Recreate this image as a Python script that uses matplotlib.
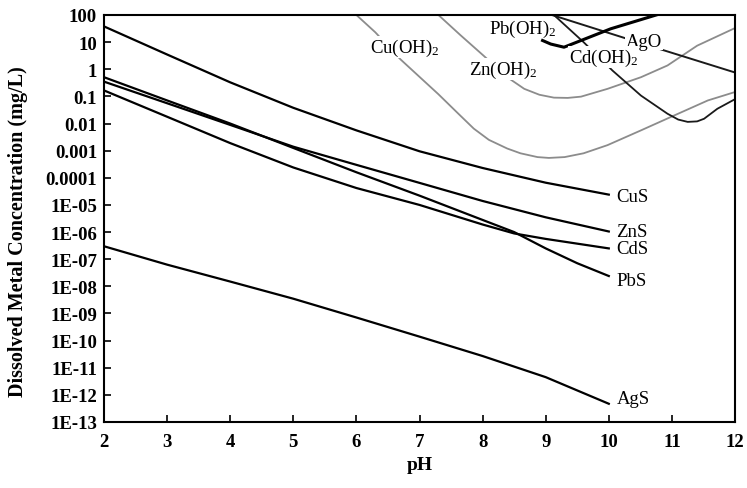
import matplotlib
matplotlib.use('Agg')
import matplotlib.pyplot as plt
from matplotlib.ticker import FixedLocator, FixedFormatter, NullLocator

plt.rcParams['font.family'] = ['Liberation Serif', 'DejaVu Serif']
plt.rcParams['mathtext.default'] = 'regular'

# ---- axis ticks ----
ph_ticks = [2, 3, 4, 5, 6, 7, 8, 9, 10, 11, 12]
conc_ticks = [1e2, 1e1, 1e0, 1e-1, 1e-2, 1e-3, 1e-4, 1e-5, 1e-6, 1e-7,
              1e-8, 1e-9, 1e-10, 1e-11, 1e-12, 1e-13]
conc_tick_labels = ['100', '10', '1', '0.1', '0.01', '0.001', '0.0001', '1E-05',
                    '1E-06', '1E-07', '1E-08', '1E-09', '1E-10', '1E-11',
                    '1E-12', '1E-13']

# ---- sulfide curves (mg/L) ----
sulfide_ph = [2, 3, 4, 5, 6, 7, 8, 9, 10]
cus = [38, 3.5, 0.33, 0.038, 5.6e-3, 9.5e-4, 2.3e-4, 6.6e-5, 2.4e-5]
zns = [0.35, 0.056, 8.9e-3, 1.4e-3, 3.0e-4, 6.5e-5, 1.4e-5, 3.5e-6, 1.05e-6]
ags = [3.0e-7, 6.3e-8, 1.5e-8, 3.5e-9, 7.1e-10, 1.4e-10, 2.7e-11, 4.5e-12, 4.7e-13]

pbs_ph = [2, 3, 4, 5, 6, 7, 8, 8.5, 9, 9.5, 10]
pbs = [0.51, 0.071, 0.01, 1.26e-3, 1.6e-4, 2.2e-5, 2.8e-6, 1.0e-6, 2.5e-7, 7.1e-8, 2.4e-8]

cds_ph = [2, 3, 4, 5, 6, 7, 8, 8.5, 9, 10]
cds = [0.166, 0.0178, 1.9e-3, 2.4e-4, 4.2e-5, 1.0e-5, 1.9e-6, 8.9e-7, 5.6e-7, 2.5e-7]

# ---- hydroxide / oxide curves (mg/L) ----
cuoh_ph = [6.0, 6.3, 6.7, 7.3, 7.6, 7.86, 8.1, 8.39, 8.6, 8.87, 9.05, 9.3, 9.6, 9.98,
           10.51, 11.04, 11.57, 12.0]
cuoh = [100, 23, 2.3, 0.12, 0.025, 6.5e-3, 2.5e-3, 1.2e-3, 8.0e-4, 5.8e-4, 5.4e-4,
        5.8e-4, 8.0e-4, 1.6e-3, 5.6e-3, 0.02, 0.071, 0.145]

znoh_ph = [7.3, 7.65, 8.02, 8.39, 8.66, 8.9, 9.13, 9.35, 9.56, 9.98, 10.51, 10.93,
           11.4, 12.0]
znoh = [100, 18, 3.1, 0.51, 0.19, 0.115, 0.09, 0.088, 0.098, 0.19, 0.51, 1.38,
        7.4, 33]

pboh_ph = [8.95, 9.08, 9.29, 10.03, 10.75]
pboh = [11.5, 8.5, 6.5, 31, 100]

cdoh_ph = [9.13, 9.6, 10.06, 10.51, 10.93, 11.1, 11.25, 11.4, 11.51, 11.72, 12.0]
cdoh = [100, 10, 0.89, 0.107, 0.023, 0.014, 0.0115, 0.012, 0.015, 0.035, 0.079]

ago_ph = [9.1, 10.5, 12.0]
ago = [100, 9.3, 0.76]

fig = plt.figure(figsize=(7.47, 4.89), dpi=100)
ax = fig.add_axes([104 / 747, 1 - 423 / 489, (735 - 104) / 747, (423 - 16) / 489])

black = '#000000'
gray = '#8c8c8c'
ax.plot(sulfide_ph, cus, color=black, lw=1.6)
ax.plot(sulfide_ph, zns, color=black, lw=1.6)
ax.plot(cds_ph, cds, color=black, lw=1.6)
ax.plot(pbs_ph, pbs, color=black, lw=1.6)
ax.plot(sulfide_ph, ags, color=black, lw=1.6)

ax.plot(cuoh_ph, cuoh, color=gray, lw=1.3)
ax.plot(znoh_ph, znoh, color=gray, lw=1.3)
ax.plot(cdoh_ph, cdoh, color='#1a1a1a', lw=1.3)
ax.plot(ago_ph, ago, color='#1a1a1a', lw=1.4)
ax.plot(pboh_ph, pboh, color=black, lw=2.2)

ax.set_yscale('log')
ax.set_xlim(2, 12)
ax.set_ylim(1e-13, 100)

ax.xaxis.set_major_locator(FixedLocator(ph_ticks))
ax.xaxis.set_minor_locator(NullLocator())
ax.yaxis.set_major_locator(FixedLocator(conc_ticks))
ax.yaxis.set_major_formatter(FixedFormatter(conc_tick_labels))
ax.yaxis.set_minor_locator(NullLocator())

ax.tick_params(axis='both', direction='in', length=5, width=1.2,
               labelsize=13.5, top=False, right=False)
ax.tick_params(axis='x', pad=8)
ax.tick_params(axis='y', pad=5)
for lab in ax.get_xticklabels() + ax.get_yticklabels():
    lab.set_fontweight('bold')
for sp in ax.spines.values():
    sp.set_linewidth(1.5)

ax.set_xlabel('pH', fontsize=14, fontweight='bold', labelpad=4)
ax.set_ylabel('Dissolved Metal Concentration (mg/L)', fontsize=14.5,
              fontweight='bold')
ax.yaxis.set_label_coords(-0.121, 0.47)

box = dict(facecolor='white', edgecolor='none', pad=0.5)
fs = 13.5
ax.text(6.22, 10 ** 0.82, 'Cu(OH)$_2$', fontsize=fs, ha='left', va='center', bbox=box, zorder=5)
ax.text(7.78, 10 ** 0.01, 'Zn(OH)$_2$', fontsize=fs, ha='left', va='center', bbox=box, zorder=5)
ax.text(8.10, 10 ** 1.52, 'Pb(OH)$_2$', fontsize=fs, ha='left', va='center', zorder=5)
ax.text(10.27, 10 ** 1.04, 'AgO', fontsize=fs, ha='left', va='center', bbox=box, zorder=5)
ax.text(9.37, 10 ** 0.45, 'Cd(OH)$_2$', fontsize=fs, ha='left', va='center', bbox=box, zorder=5)

ax.text(10.12, 10 ** -4.70, 'CuS', fontsize=fs, ha='left', va='center')
ax.text(10.12, 10 ** -5.99, 'ZnS', fontsize=fs, ha='left', va='center')
ax.text(10.12, 10 ** -6.62, 'CdS', fontsize=fs, ha='left', va='center')
ax.text(10.12, 10 ** -7.79, 'PbS', fontsize=fs, ha='left', va='center')
ax.text(10.12, 10 ** -12.15, 'AgS', fontsize=fs, ha='left', va='center')

fig.savefig('out.png', dpi=100)
